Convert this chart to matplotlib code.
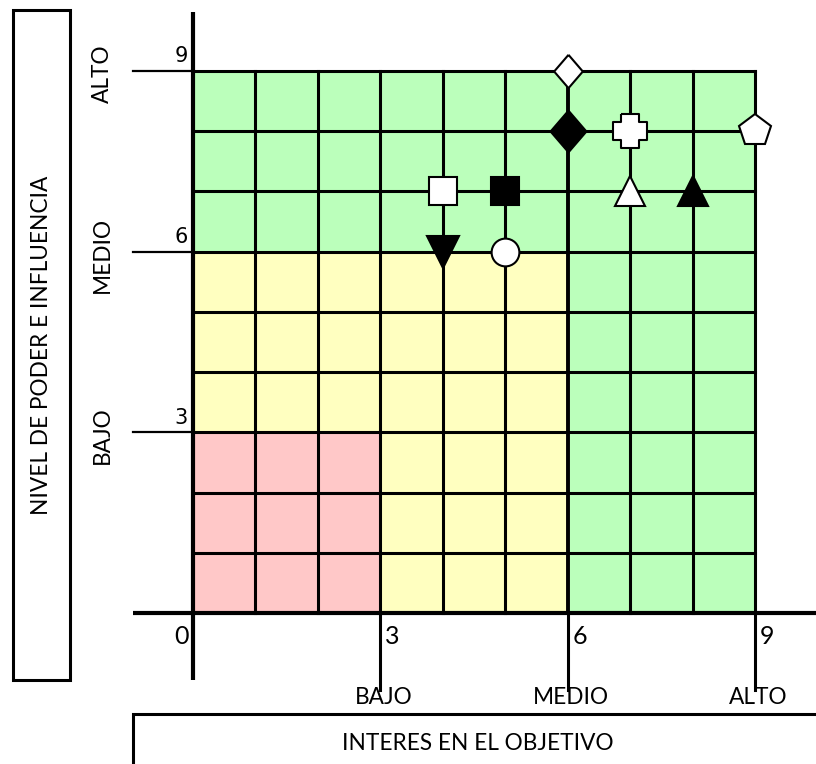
import matplotlib.pyplot as plt
from matplotlib.patches import Rectangle

# puntos de los interesados (interes, poder)
interes = [6, 6, 7, 9, 4, 5, 7, 8, 4, 5]
poder = [9, 8, 8, 8, 7, 7, 7, 7, 6, 6]
formas = ['rombo', 'rombo', 'cruz', 'p', 's', 's', '^', '^', 'v', 'o']
rellenos = ['white', 'black', 'white', 'white', 'white', 'black', 'white', 'black', 'black', 'white']

niveles = ['BAJO', 'MEDIO', 'ALTO']
marcas = [3, 6, 9]
titulo_x = 'INTERES EN EL OBJETIVO'
titulo_y = 'NIVEL DE PODER E INFLUENCIA'

# marcadores propios: rombo alto y cruz gruesa
a = 0.52
ROMBO = [(0, 1), (0.86, 0), (0, -1), (-0.86, 0), (0, 1)]
CRUZ = [(-a, 1), (a, 1), (a, a), (1, a), (1, -a), (a, -a), (a, -1), (-a, -1),
        (-a, -a), (-1, -a), (-1, a), (-a, a), (-a, 1)]
estilo = {'rombo': ROMBO, 'cruz': CRUZ, 'p': 'p', 's': 's', '^': '^', 'v': 'v', 'o': 'o'}
tam = {'rombo': 24, 'cruz': 24, 'p': 24, 's': 20.5, '^': 22, 'v': 23, 'o': 20}
tam_rombo_negro = 30

ROJO = '#FFC8C8'
AMARILLO = '#FFFFC0'
VERDE = '#BBFFBB'
FUENTE = ['Lato', 'DejaVu Sans']
TAM_TXT = 16.3

fig = plt.figure(figsize=(8.16, 7.64), dpi=100)
ax = fig.add_axes([0, 0, 1, 1])

# escala pixel -> datos: x=0 en px 193, 62.44 px/unidad; y=0 en px 613, 60.22 px/unidad
sx, sy = 62.44, 60.22
def px(x):
    return (x - 193) / sx
def py(y):
    return (613 - y) / sy

ax.set_xlim(px(0), px(816))
ax.set_ylim(py(764), py(0))
ax.axis('off')

# celdas de color
for i in range(9):
    for j in range(9):
        if i < 3 and j < 3:
            c = ROJO
        elif i < 6 and j < 6:
            c = AMARILLO
        else:
            c = VERDE
        ax.add_patch(Rectangle((i, j), 1, 1, facecolor=c, edgecolor='none', zorder=1))

# rejilla
for k in range(1, 10):
    ax.plot([k, k], [0, 9], color='black', lw=2.8 if k == 6 else 2.2, zorder=2)
    ax.plot([0, 9], [k, k], color='black', lw=2.2, zorder=2)

# ejes
ax.plot([0, 0], [py(680), py(12)], color='black', lw=3, zorder=3, solid_capstyle='butt')
ax.plot([px(133), px(816)], [0, 0], color='black', lw=3, zorder=3, solid_capstyle='butt')
for m in marcas:
    ax.plot([px(133), 0], [m, m], color='black', lw=1.6, zorder=3)
    ax.plot([m, m], [0, py(690)], color='black', lw=2.2, zorder=3)

# etiquetas numericas
for m in marcas:
    ax.text(-0.08, m + 0.08, str(m), ha='right', va='bottom', fontsize=15,
            family='DejaVu Sans')
    ax.text(m + 0.08, py(636), str(m), ha='left', va='center', fontsize=18,
            family=FUENTE)
ax.text(-0.07, py(636), '0', ha='right', va='center', fontsize=18, family=FUENTE)

# niveles
for m, n in zip(marcas, niveles):
    ax.text(m + 0.06, py(698), n, ha='center', va='center', fontsize=TAM_TXT, family=FUENTE)
    ax.text(px(102), m - 0.05, n, ha='center', va='center', rotation=90, fontsize=TAM_TXT,
            family=FUENTE)

# cajas de titulo
ax.add_patch(Rectangle((px(13), py(680)), px(70) - px(13), py(10) - py(680),
                       facecolor='white', edgecolor='black', lw=2.2, zorder=3))
ax.text(px(42), py(345), titulo_y, rotation=90, ha='center', va='center', fontsize=TAM_TXT,
        family=FUENTE, zorder=4)
ax.add_patch(Rectangle((px(133), py(770)), px(830) - px(133), py(714) - py(770),
                       facecolor='white', edgecolor='black', lw=2.2, zorder=3))
ax.text(px(478), py(743), titulo_x, ha='center', va='center', fontsize=TAM_TXT,
        family=FUENTE, zorder=4)

# marcadores
for x, y, f, fc in zip(interes, poder, formas, rellenos):
    ms = tam[f]
    if f == 'rombo' and fc == 'black':
        ms = tam_rombo_negro
    ax.plot(x, y, marker=estilo[f], markersize=ms, markerfacecolor=fc,
            markeredgecolor='black', markeredgewidth=1.5, linestyle='none', zorder=5,
            clip_on=False)

fig.savefig('out.png', dpi=100)
